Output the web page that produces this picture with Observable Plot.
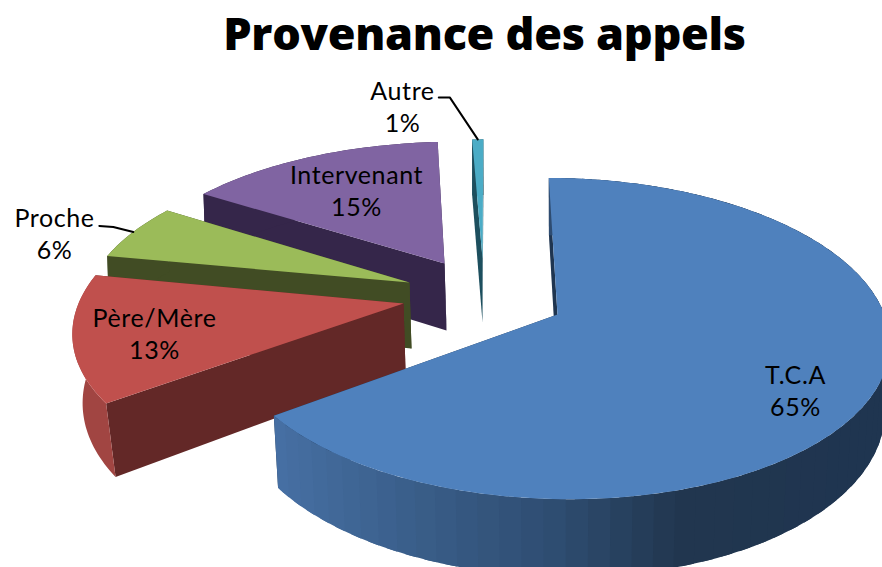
<!DOCTYPE html>
<html lang="fr">
<head>
<meta charset="utf-8">
<script src="https://cdn.jsdelivr.net/npm/d3@7"></script>
<script src="https://cdn.jsdelivr.net/npm/@observablehq/plot@0.6"></script>
<style>
html,body{margin:0;padding:0;background:#fff;overflow:hidden}
svg{display:block}
</style>
</head>
<body>
<div id="chart"></div>
<script>
// Data
const chartTitle = "Provenance des appels";
const categories = ["T.C.A", "Père/Mère", "Proche", "Intervenant", "Autre"];
const shares = [65, 13, 6, 15, 1];

// Colours
const topColors = ["#4f81bd", "#c0504d", "#9bbb59", "#8064a2", "#4bacc6"];
const cutColors = ["#1f3550", "#632827", "#414c24", "#35264a", "#1d4f5e"];
const rimColors = ["#21364f", "#a14542", "#414c24", "#35264a", "#1d4f5e"];

// Exploded 3-D pie layout: where each slice's tip landed and how it is seen
const W = 882, H = 567, persp = 0.15;
const layout = [
  {ax: 557, ay: 314, r: 327, ry: 157, lean: -10, depth: 66, low: 0.985, shift: 0},
  {ax: 403, ay: 303, r: 325, ry: 155, lean: 14, depth: 67, low: 0.975, shift: 2},
  {ax: 409, ay: 282, r: 319, ry: 145, lean: 14, depth: 66, low: 1, shift: 2},
  {ax: 444, ay: 263, r: 316, ry: 140, lean: 12, depth: 67, low: 1, shift: 2},
  {ax: 482, ay: 258, r: 205, ry: 137, lean: 1, depth: 64, low: 1, shift: 0}
];
const labelOffsets = [[238, 75], [-249, 29], [-355, -50], [-88, -74], [-80, -153]];
const elbows = [null, null, [[-20, -5], [-34, -6]], null, [[-28, -42], [-39, -42]]];

const total = d3.sum(shares);
const starts = d3.cumsum([0, ...shares]).map(v => v / total * 2 * Math.PI);

function project(i, theta, u, low) {
  const s = layout[i];
  const X = u * Math.sin(theta), Y = u * Math.cos(theta), f = 1 / (1 + persp * Y);
  const scale = low ? s.low : 1;
  return {
    x: s.ax + (low ? s.shift : 0) + scale * (s.r * X + s.lean * Y) * f,
    y: s.ay - s.ry * Y * f + (low ? s.depth * f : 0)
  };
}

// Rim shading of the big slice, light on the left to dark on the right
const blueRim = d3.scaleLinear()
  .domain([277, 420, 560, 680, 882])
  .range(["#466fa3", "#395d88", "#2e4c70", "#21364f", "#1f3550"]);

const rows = [];
let faceId = 0;
function addFace(points, fill) {
  const id = faceId++;
  [...points, points[0]].forEach(p => rows.push({id, x: p.x, y: p.y, fill}));
}

// Back to front: Autre, Intervenant, Proche, Père/Mère, T.C.A
d3.range(shares.length).sort((a, b) => (a === 0 ? 1 : b === 0 ? -1 : b - a)).forEach(i => {
  const a0 = starts[i], a1 = starts[i + 1];
  const cut = t => [project(i, t, 0, false), project(i, t, 1, false), project(i, t, 1, true), project(i, t, 0, true)];
  addFace(cut(a1), cutColors[i]);
  addFace(cut(a0), cutColors[i]);
  const n = Math.max(2, Math.round((a1 - a0) / 0.02));
  const arc = (low, from, to, m) => d3.range(m + 1).map(k => project(i, from + (to - from) * k / m, 1, low));
  if (i === 0) {
    // the rim is split in overlapping bands so that its shading has no seams
    const bands = 70;
    d3.range(bands).forEach(k => {
      const t0 = a0 + (a1 - a0) * k / bands;
      const t1 = Math.min(a1, a0 + (a1 - a0) * (k + 1.6) / bands);
      const up = arc(false, t0, t1, 4), dn = arc(true, t0, t1, 4).reverse();
      const mid = project(i, a0 + (a1 - a0) * (k + 0.5) / bands, 1, false);
      addFace([...up, ...dn], blueRim(mid.x));
    });
  } else {
    addFace([...arc(false, a0, a1, n), ...arc(true, a0, a1, n).reverse()], rimColors[i]);
  }
  addFace([project(i, a0, 0, false), ...arc(false, a0, a1, n)], topColors[i]);
});

const labels = categories.map((name, i) => ({
  text: `${name}\n${shares[i]}%`,
  x: layout[i].ax + labelOffsets[i][0],
  y: layout[i].ay + labelOffsets[i][1]
}));

const leaders = [];
elbows.forEach((pts, i) => {
  if (!pts) return;
  const end = project(i, (starts[i] + starts[i + 1]) / 2, 1, false);
  leaders.push({i, x: end.x, y: end.y});
  pts.forEach(([dx, dy]) => leaders.push({i, x: end.x + dx, y: end.y + dy}));
});

const chart = Plot.plot({
  width: W, height: H, margin: 0,
  style: {background: "#fff"},
  x: {domain: [0, W], range: [0, W], axis: null},
  y: {domain: [0, H], range: [0, H], axis: null},
  color: {type: "identity"},
  marks: [
    Plot.line(rows, {x: "x", y: "y", z: "id", fill: "fill", curve: "linear"}),
    Plot.line(leaders, {x: "x", y: "y", z: "i", stroke: "#000", strokeWidth: 2, curve: "linear"}),
    Plot.text(labels, {x: "x", y: "y", text: "text", fontFamily: "Lato", fontSize: 25, lineHeight: 1.28, fill: "#000", textAnchor: "middle"}),
    Plot.text([chartTitle], {x: () => 484, y: () => 35, text: d => d, fontFamily: "Open Sans", fontWeight: 800, fontSize: 45, fill: "#000", textAnchor: "middle"})
  ]
});
d3.select(chart).selectAll("text").style("letter-spacing", function() {
  return this.textContent === chartTitle ? "-0.3px" : "0.6px";
});
document.getElementById("chart").appendChild(chart);
</script>
</body>
</html>
